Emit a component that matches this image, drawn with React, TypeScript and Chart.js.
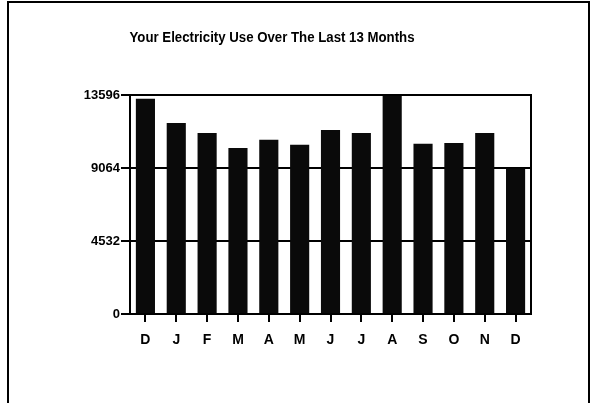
import React, { useEffect, useRef } from "react";
import { Chart, registerables } from "chart.js";

Chart.register(...registerables);

const months = ["D", "J", "F", "M", "A", "M", "J", "J", "A", "S", "O", "N", "D"];
const usage = [13370, 11850, 11230, 10300, 10820, 10510, 11430, 11230, 13596, 10570, 10610, 11230, 9040];
const yTicks = [0, 4532, 9064, 13596];
const titleText = "Your Electricity Use Over The Last 13 Months";

export default function App() {
  const ref = useRef<HTMLCanvasElement | null>(null);

  useEffect(() => {
    document.body.style.margin = "0";
    const canvas = ref.current;
    if (!canvas) return;

    const framePlugin = {
      id: "frame",
      afterDraw(chart: any) {
        const { ctx, chartArea } = chart;
        ctx.save();
        ctx.strokeStyle = "#000";
        ctx.lineWidth = 2;
        ctx.strokeRect(chartArea.left, chartArea.top, chartArea.right - chartArea.left, chartArea.bottom - chartArea.top);
        ctx.fillStyle = "#000";
        ctx.font = 'bold 14px "Liberation Sans", Arial, sans-serif';
        ctx.textAlign = "center";
        ctx.textBaseline = "middle";
        const w = ctx.measureText(titleText).width;
        const sx = w > 0 ? 285 / w : 1;
        ctx.translate(272, 38);
        ctx.scale(sx, 1);
        ctx.fillText(titleText, 0, 0);
        ctx.restore();
      },
    };

    const tickFont = { family: '"Liberation Sans", Arial, sans-serif', size: 13, weight: "bold" as const };

    const chart = new Chart(canvas, {
      type: "bar",
      data: {
        labels: months,
        datasets: [
          {
            data: usage,
            backgroundColor: "#0a0a0a",
            borderWidth: 0,
            barPercentage: 0.62,
            categoryPercentage: 1,
          },
        ],
      },
      options: {
        animation: false,
        responsive: false,
        layout: { padding: { top: 95, left: 0, right: 63, bottom: 0 } },
        plugins: { legend: { display: false }, tooltip: { enabled: false }, title: { display: false } },
        scales: {
          x: {
            grid: {
              display: true,
              drawOnChartArea: false,
              drawTicks: true,
              tickLength: 8,
              offset: false,
              color: "#000",
              lineWidth: 2,
            },
            border: { display: true, color: "#000", width: 2 },
            ticks: { color: "#000", font: { ...tickFont, size: 14 }, padding: 10, maxRotation: 0, autoSkip: false },
            afterFit(scale: any) {
              scale.height = 89;
            },
          },
          y: {
            min: 0,
            max: 13596,
            afterBuildTicks(scale: any) {
              scale.ticks = yTicks.map((v) => ({ value: v }));
            },
            grid: { color: "#000", lineWidth: 2, tickLength: 9, drawTicks: true },
            border: { display: true, color: "#000", width: 2 },
            ticks: {
              color: "#000",
              font: tickFont,
              padding: 1,
              callback: (v: any) => String(v),
            },
            afterFit(scale: any) {
              scale.width = 130;
            },
          },
        },
      },
      plugins: [framePlugin],
    });

    return () => chart.destroy();
  }, []);

  return (
    <div style={{ position: "relative", width: 594, height: 403, background: "#fff", overflow: "hidden" }}>
      <canvas ref={ref} width={594} height={403} style={{ display: "block" }} />
      <div
        style={{
          position: "absolute",
          left: 7,
          top: 1,
          width: 583,
          height: 406,
          border: "2px solid #000",
          boxSizing: "border-box",
          pointerEvents: "none",
        }}
      />
    </div>
  );
}
